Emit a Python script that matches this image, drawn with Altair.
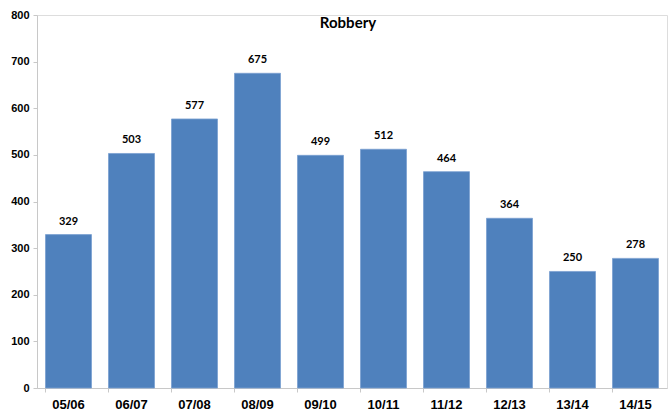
import altair as alt
import pandas as pd

years = ["05/06", "06/07", "07/08", "08/09", "09/10", "10/11", "11/12", "12/13", "13/14", "14/15"]
robbery = [329, 503, 577, 675, 499, 512, 464, 364, 250, 278]

df = pd.DataFrame({"year": years, "count": robbery})

W, H = 630, 373

base = alt.Chart(df).encode(
    x=alt.X("year:N", sort=years, title=None,
            scale=alt.Scale(paddingInner=0.27, paddingOuter=0.135),
            axis=alt.Axis(labelAngle=0, labelFont="Liberation Sans", labelFontWeight="bold",
                          labelFontSize=13, labelColor="#000000", labelPadding=6,
                          domainColor="#c8c8c8", tickColor="#c8c8c8", tickSize=4,
                          bandPosition=0, ticks=True)),
    y=alt.Y("count:Q", title=None,
            scale=alt.Scale(domain=[0, 800], nice=False),
            axis=alt.Axis(values=list(range(0, 801, 100)), grid=False,
                          labelFont="Liberation Sans", labelFontWeight="bold",
                          labelFontSize=11, labelColor="#000000", labelPadding=4,
                          domainColor="#c8c8c8", tickColor="#c8c8c8", tickSize=4)),
)

bars = base.mark_bar(color="#4F81BD", stroke="#7aa0d0", strokeWidth=0.8)
labels = base.mark_text(dy=-8, font="Lato", fontWeight="bold", fontSize=11, color="#000000",
                        baseline="bottom").encode(text="count:Q")

title = alt.Chart(pd.DataFrame({"t": ["Robbery"]})).mark_text(
    font="Lato", fontWeight="bold", fontSize=15, color="#000000", baseline="middle"
).encode(text="t:N", x=alt.value(W / 2 - 4), y=alt.value(8))

chart = alt.layer(bars, labels, title).properties(
    width=W, height=H,
    autosize=alt.AutoSizeParams(type="none"),
    padding={"left": 37, "top": 15, "right": 3, "bottom": 27},
).configure_view(stroke=None).configure(background="#ffffff")

chart.save("out.html", embed_options={"renderer": "svg", "actions": False})
